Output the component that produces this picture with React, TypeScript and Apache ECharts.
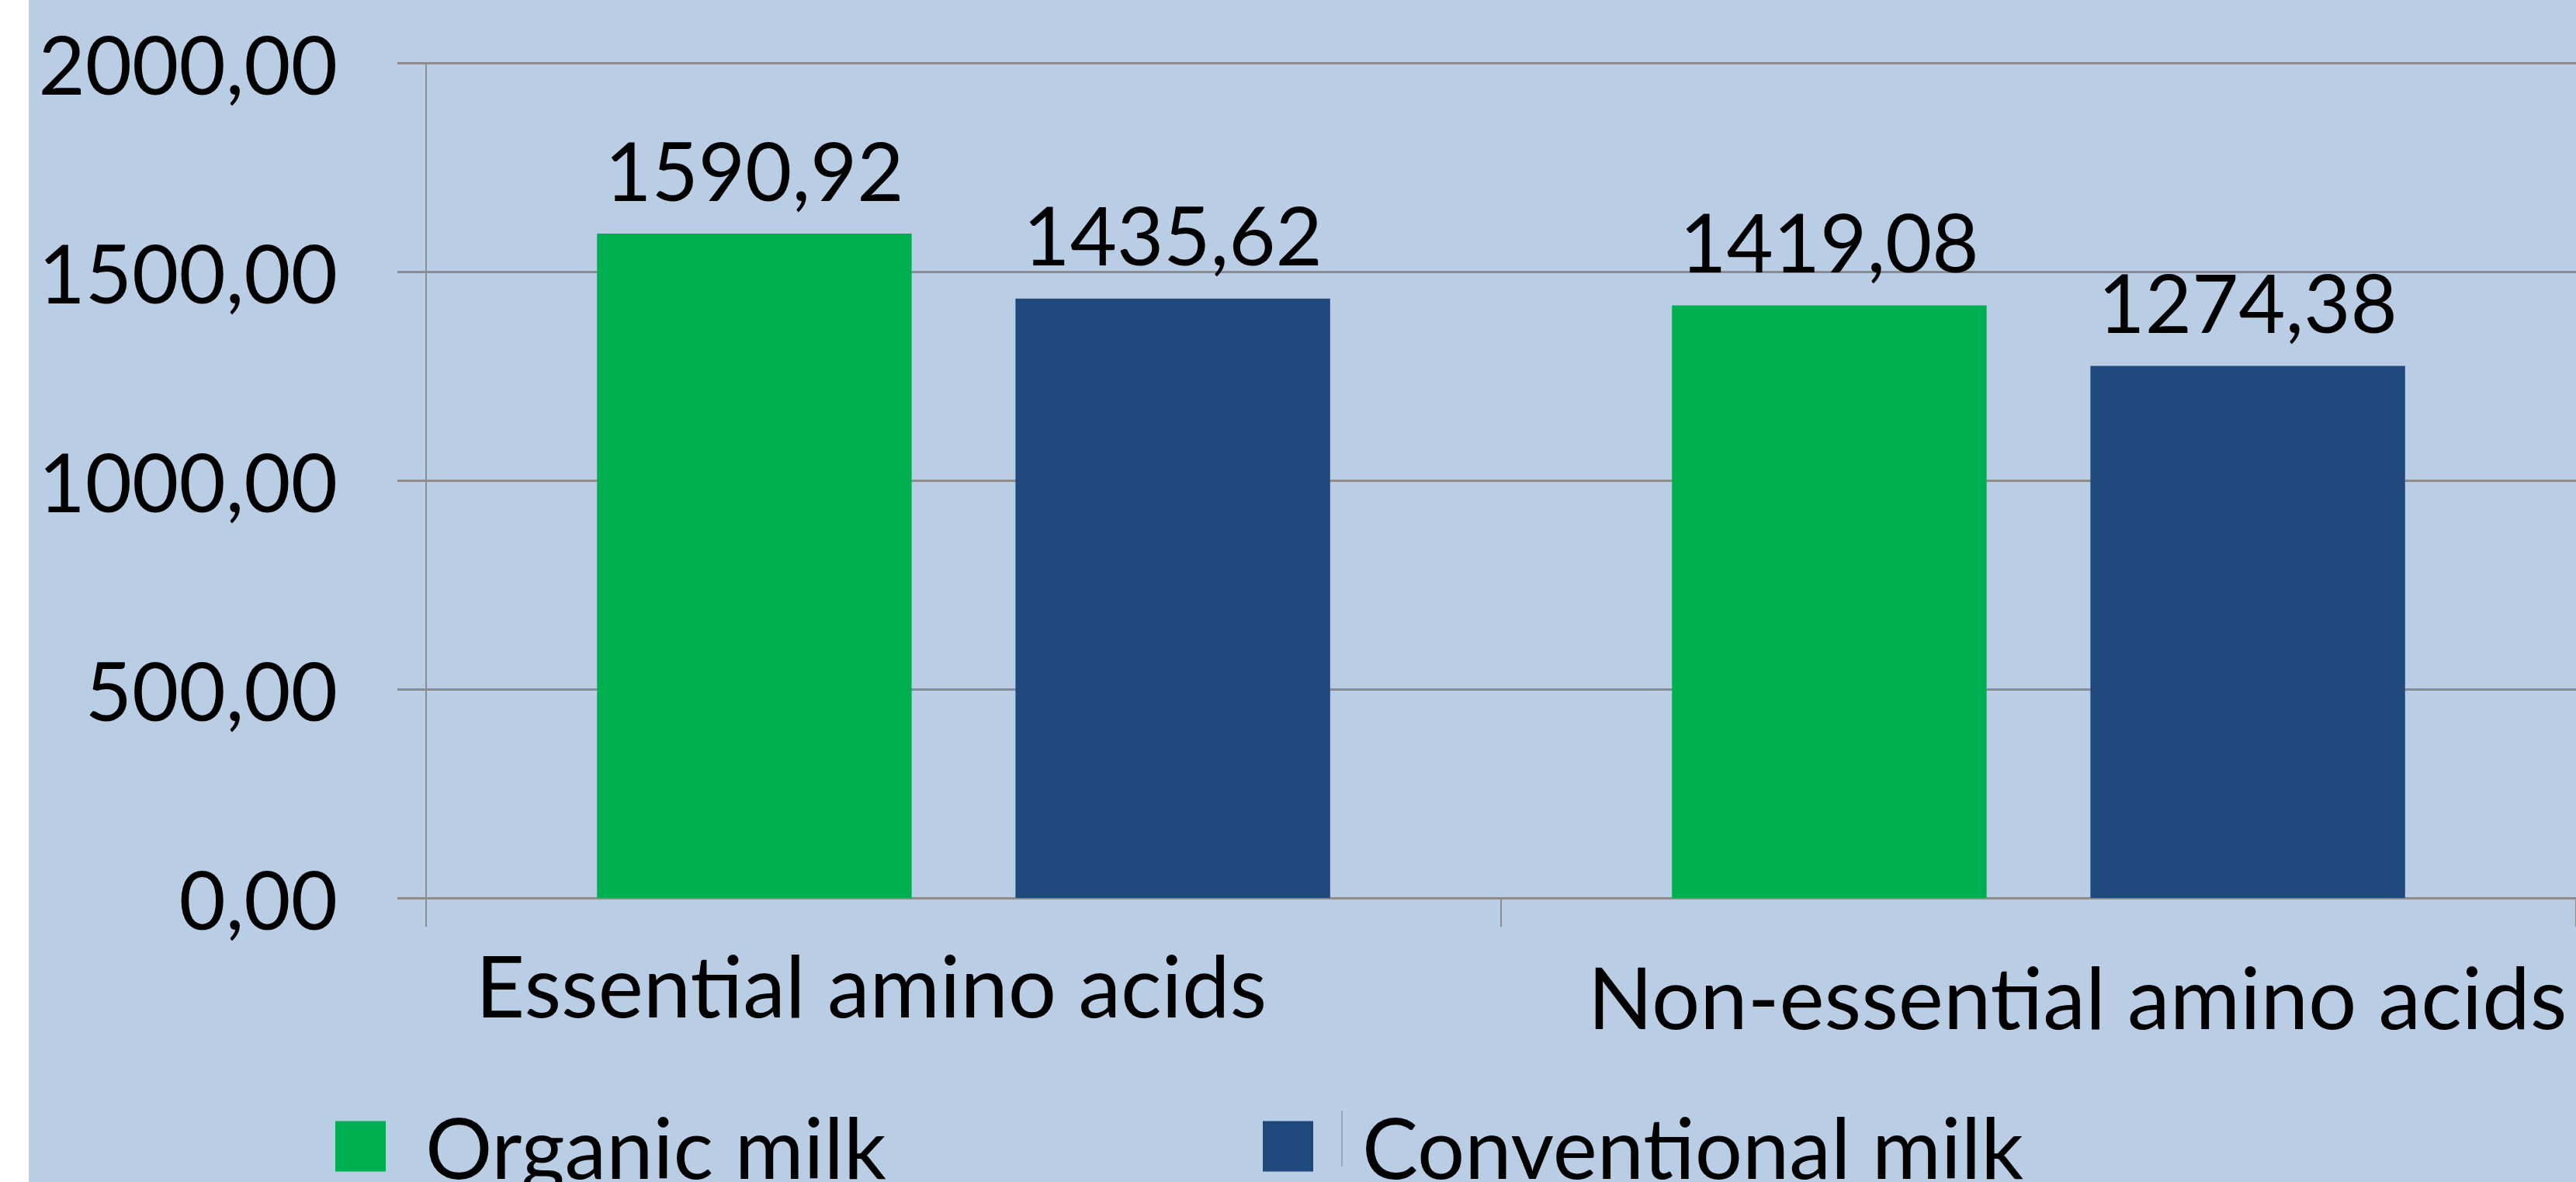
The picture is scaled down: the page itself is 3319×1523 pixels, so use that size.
import React, { useEffect, useRef } from "react";
import * as echarts from "echarts";

// Amino acid content in milk
const categories = ["Essential amino acids", "Non-essential amino acids"];
const seriesNames = ["Organic milk", "Conventional milk"];
const organicValues = [1590.92, 1419.08];
const conventionalValues = [1435.62, 1274.38];
const yMin = 0;
const yMax = 2000;
const yStep = 500;

const FONT = "Lato";
const GREEN = "#00B050";
const NAVY = "#1F497D";
const BG = "#B9CDE5";
const GRID = "#8C8C8C";

const fmt = (v: number) => v.toFixed(2).replace(".", ",");

export default function App() {
  const ref = useRef<HTMLDivElement>(null);

  useEffect(() => {
    if (!ref.current) return;
    const chart = echarts.init(ref.current, null, { renderer: "svg" });

    const valueLabel = {
      show: true,
      position: "top" as const,
      distance: 31,
      color: "#000",
      fontFamily: FONT,
      fontSize: 104,
      formatter: (p: any) => fmt(p.value),
    };

    chart.setOption({
      animation: false,
      backgroundColor: BG,
      textStyle: { fontFamily: FONT },
      grid: { left: 512, right: 0, top: 81, bottom: 366, containLabel: false },
      legend: [
        {
          data: [seriesNames[0]],
          left: 390,
          top: 1418,
          itemWidth: 65,
          itemHeight: 65,
          icon: "rect",
          textStyle: { fontFamily: FONT, fontSize: 108, color: "#000", padding: [0, 0, 0, 46] },
        },
        {
          data: [seriesNames[1]],
          left: 1585,
          top: 1418,
          itemWidth: 65,
          itemHeight: 65,
          icon: "rect",
          textStyle: { fontFamily: FONT, fontSize: 108, color: "#000", padding: [0, 0, 0, 58] },
        },
      ],
      xAxis: {
        type: "category",
        data: categories,
        axisLine: { show: true, lineStyle: { color: GRID, width: 3 } },
        axisTick: { show: true, length: 37, lineStyle: { color: GRID, width: 2 } },
        axisLabel: {
          interval: 0,
          margin: 56,
          formatter: (v: string, i: number) => (i === 0 ? `{a|${v}}` : `{b|${v}}`),
          rich: {
            a: { fontFamily: FONT, fontSize: 110, color: "#000", padding: [0, 238, 0, 0] },
            b: { fontFamily: FONT, fontSize: 110, color: "#000", padding: [15, 0, 0, 100] },
          },
        },
        splitLine: { show: false },
      },
      yAxis: {
        type: "value",
        min: yMin,
        max: yMax,
        interval: yStep,
        axisLine: { show: true, lineStyle: { color: GRID, width: 2 } },
        axisTick: { show: true, length: 37, lineStyle: { color: GRID, width: 3 } },
        axisLabel: {
          margin: 114,
          color: "#000",
          fontFamily: FONT,
          fontSize: 104,
          formatter: (v: number) => fmt(v),
        },
        splitLine: { show: true, lineStyle: { color: GRID, width: 3 } },
      },
      series: [
        {
          name: seriesNames[0],
          type: "bar",
          data: organicValues,
          itemStyle: { color: GREEN },
          barGap: "33%",
          barCategoryGap: "31.8%",
          label: valueLabel,
        },
        {
          name: seriesNames[1],
          type: "bar",
          data: conventionalValues,
          itemStyle: { color: NAVY },
          barGap: "33%",
          barCategoryGap: "31.8%",
          label: valueLabel,
        },
      ],
      graphic: [
        {
          type: "line",
          shape: { x1: 1692, y1: 1431, x2: 1692, y2: 1503 },
          style: { stroke: "#9aa6b4", lineWidth: 2 },
        },
      ],
    });

    return () => chart.dispose();
  }, []);

  return (
    <div style={{ position: "fixed", left: 0, top: 0, width: 3319, height: 1523, background: "#fff" }}>
      <div ref={ref} style={{ position: "absolute", left: 37, top: 0, width: 3282, height: 1523 }} />
    </div>
  );
}
